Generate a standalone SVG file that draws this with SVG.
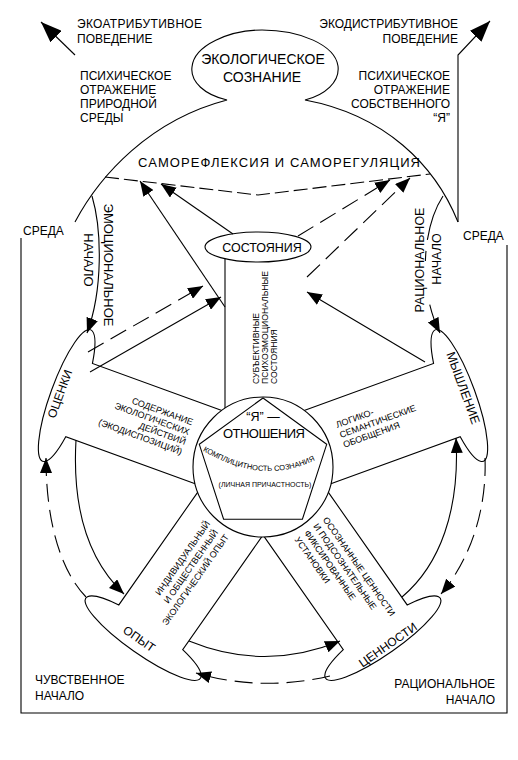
<svg xmlns="http://www.w3.org/2000/svg" width="518" height="760" viewBox="0 0 518 760">
<defs>
<style>
text{font-family:"Liberation Sans",Arial,sans-serif;fill:#000}
.ln{fill:none;stroke:#000;stroke-width:1.1}
.sh{fill:#fff;stroke:#000;stroke-width:1.1}
.ds{stroke-dasharray:18 8}
.f12{font-size:12px}
.f13{font-size:13px}
.f14{font-size:14px}
.f9{font-size:9px}
.f86{font-size:8.6px}
.f7{font-size:7.5px}
.a{marker-end:url(#ah)}
.ab{marker-end:url(#ahb)}
</style>
<marker id="ah" viewBox="0 0 10 10" refX="10" refY="5" markerWidth="15" markerHeight="12" markerUnits="userSpaceOnUse" orient="auto" preserveAspectRatio="none"><path d="M0,0 L10,5 L0,10 z" fill="#000"/></marker>
<marker id="ahb" viewBox="0 0 10 10" refX="10" refY="5" markerWidth="21" markerHeight="16" markerUnits="userSpaceOnUse" orient="auto" preserveAspectRatio="none"><path d="M0,0 L10,5 L0,10 z" fill="#000"/></marker>
<path id="arcp" d="M200,449 Q268,491 328,453"/>
</defs>
<rect width="518" height="760" fill="#fff"/>

<g id="frame">
<path class="ln" d="M21,238 L21,713 L507,713 L507,245"/>
<text class="f12" x="23" y="235">СРЕДА</text>
<text class="f12" x="463" y="240">СРЕДА</text>
<text class="f12" x="35" y="684">ЧУВСТВЕННОЕ</text>
<text class="f12" x="35" y="700">НАЧАЛО</text>
<text class="f12" x="495" y="688" text-anchor="end">РАЦИОНАЛЬНОЕ</text>
<text class="f12" x="495" y="704" text-anchor="end">НАЧАЛО</text>
</g>

<g id="behaviour-labels">
<text class="f12" x="77" y="28" textLength="125">ЭКОАТРИБУТИВНОЕ</text>
<text class="f12" x="77" y="43">ПОВЕДЕНИЕ</text>
<text class="f12" x="458" y="28" text-anchor="end">ЭКОДИСТРИБУТИВНОЕ</text>
<text class="f12" x="458" y="43" text-anchor="end">ПОВЕДЕНИЕ</text>
<text class="f12" x="80" y="80">ПСИХИЧЕСКОЕ</text>
<text class="f12" x="80" y="94">ОТРАЖЕНИЕ</text>
<text class="f12" x="80" y="108">ПРИРОДНОЙ</text>
<text class="f12" x="80" y="122">СРЕДЫ</text>
<text class="f12" x="450" y="80" text-anchor="end">ПСИХИЧЕСКОЕ</text>
<text class="f12" x="450" y="94" text-anchor="end">ОТРАЖЕНИЕ</text>
<text class="f12" x="450" y="108" text-anchor="end">СОБСТВЕННОГО</text>
<text class="f12" x="450" y="122" text-anchor="end">“Я”</text>
</g>

<g id="ecological-consciousness">
<path class="ln" d="M75,222 C100,175 150,120 227,100 C205,95 190,82 192,67 C194,45 230,30 262,30 C300,30 335,45 338,66 C340,82 325,95 305,100 C385,115 435,165 458,222"/>
<text class="f14" x="263" y="64" text-anchor="middle">ЭКОЛОГИЧЕСКОЕ</text>
<text class="f14" x="262" y="82" text-anchor="middle">СОЗНАНИЕ</text>
</g>

<g id="self-reflection">
<path class="ln" d="M105,177 L258,195 L430,174" stroke-dasharray="14 5"/>
<text class="f13" x="279" y="167" text-anchor="middle" textLength="282">САМОРЕФЛЕКСИЯ И САМОРЕГУЛЯЦИЯ</text>
</g>

<g id="emotional-origin">
<text class="f13" transform="translate(104,265) rotate(90)" text-anchor="middle">ЭМОЦИОНАЛЬНОЕ</text>
<text class="f13" transform="translate(84,260) rotate(90)" text-anchor="middle">НАЧАЛО</text>
</g>
<g id="rational-origin">
<text transform="translate(424,260) rotate(-90)" text-anchor="middle" style="font-size:12.5px">РАЦИОНАЛЬНОЕ</text>
<text transform="translate(441,259) rotate(-90)" text-anchor="middle" style="font-size:12.5px">НАЧАЛО</text>
</g>

<g id="spoke-states">
<path class="ln" d="M225,259 L225,408"/>
<ellipse class="sh" cx="258" cy="247" rx="53" ry="15"/>
<text x="262" y="252" text-anchor="middle" style="font-size:12.5px">СОСТОЯНИЯ</text>
<text class="f86" transform="translate(258.5,384) rotate(-90)">СУБЪЕКТИВНЫЕ</text>
<text class="f86" transform="translate(268,384) rotate(-90)">ПСИХОЭМОЦИОНАЛЬНЫЕ</text>
<text class="f86" transform="translate(277,384) rotate(-90)">СОСТОЯНИЯ</text>
</g>

<g id="spoke-assessments">
<path class="sh" transform="translate(263,467) rotate(200)" d="M58,-39 L195.7,-39 A16 70 0 1 1 195.7,39 L58,39"/>
<text class="f12" transform="translate(60,394) rotate(-70)" y="4" text-anchor="middle">ОЦЕНКИ</text>
<g class="f9" transform="translate(190,430) rotate(20)" text-anchor="end">
<text y="-5">СОДЕРЖАНИЕ</text>
<text y="5.5">ЭКОЛОГИЧЕСКИХ</text>
<text y="16">ДЕЙСТВИЙ</text>
<text y="26.5">(ЭКОДИСПОЗИЦИЙ)</text>
</g>
</g>

<g id="spoke-thinking">
<path class="sh" transform="translate(263,467) rotate(-20)" d="M58,-39 L195.7,-39 A16 70 0 1 1 195.7,39 L58,39"/>
<text transform="translate(463,388) rotate(70)" y="4" text-anchor="middle" style="font-size:12.5px">МЫШЛЕНИЕ</text>
<g class="f9" transform="translate(338,430) rotate(-20)">
<text y="-2.2">ЛОГИКО-</text>
<text y="8.6">СЕМАНТИЧЕСКИЕ</text>
<text y="19">ОБОБЩЕНИЯ</text>
</g>
</g>

<g id="spoke-experience">
<path class="sh" transform="translate(263,467) rotate(125)" d="M58,-39 L195.7,-39 A16 70 0 1 1 195.7,39 L58,39"/>
<text class="f12" transform="translate(139,639) rotate(35)" y="4" text-anchor="middle">ОПЫТ</text>
<g class="f9" transform="translate(208,522) rotate(-55)" text-anchor="end">
<text y="3">ИНДИВИДУАЛЬНЫЙ</text>
<text y="14.5" x="-2.5">И ОБЩЕСТВЕННЫЙ</text>
<text y="26">ЭКОЛОГИЧЕСКИЙ ОПЫТ</text>
</g>
</g>

<g id="spoke-values">
<path class="sh" transform="translate(263,467) rotate(55)" d="M58,-39 L195.7,-39 A16 70 0 1 1 195.7,39 L58,39"/>
<text class="f12" transform="translate(388,645) rotate(-35)" y="4" text-anchor="middle">ЦЕННОСТИ</text>
<g class="f9" transform="translate(325,518) rotate(55)">
<text y="3">ОСОЗНАННЫЕ ЦЕННОСТИ</text>
<text y="14.5">И ПОДСОЗНАТЕЛЬНЫЕ</text>
<text y="26">ФИКСИРОВАННЫЕ</text>
<text y="37.5">УСТАНОВКИ</text>
</g>
</g>

<g id="self-relations">
<circle class="sh" cx="263" cy="467" r="70"/>
<polygon class="ln" points="263,398 326.7,444.3 302.4,519.2 223.6,519.2 199.3,444.3"/>
<text x="263" y="421" text-anchor="middle" style="font-size:12.5px">“Я” —</text>
<text class="f13" x="264" y="438" text-anchor="middle" textLength="82">ОТНОШЕНИЯ</text>
<text class="f7"><textPath href="#arcp" startOffset="3">КОМПЛИЦИТНОСТЬ СОЗНАНИЯ</textPath></text>
<text x="265" y="487" text-anchor="middle" style="font-size:7px">(ЛИЧНАЯ ПРИЧАСТНОСТЬ)</text>
</g>

<g id="connectors">
<path class="ln ab" d="M75,55 L41,22"/>
<path class="ln ab" d="M458,222 L458,55 L490,21"/>
<path class="ln a" d="M92,196 C102,230 103,290 87,333"/>
<path class="ln a" d="M443,196 C421,230 419,292 440,333" stroke-dasharray="47 11 10 44 200"/>
<path class="ln a" d="M90,372 L221,297"/>
<path class="ln ds a" d="M88,352 L203,286"/>
<path class="ln a" d="M225,307 L140,181"/>
<path class="ln a" d="M233,234 L161,184"/>
<path class="ln a" d="M425,362 L307,292"/>
<path class="ln ds a" d="M298,236 L390,180"/>
<path class="ln ds a" d="M307,277 L410,178"/>
<path class="ln a" d="M76,440 C72,510 88,560 124,594"/>
<path class="ln ds a" d="M86,597 C60,570 46,520 46,458"/>
<path class="ln a" d="M189,641 Q265,672 340,641"/>
<path class="ln ds a" d="M330,676 Q262,692 196,673"/>
<path class="ln a" d="M402,597 C440,565 460,510 456,438"/>
<path class="ln ds a" d="M485,458 C487,510 470,560 441,594"/>
</g>
</svg>
